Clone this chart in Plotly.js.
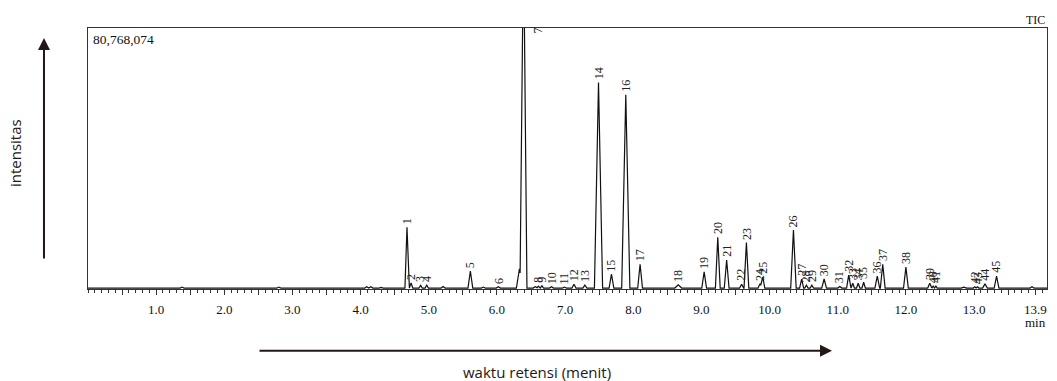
<!DOCTYPE html>
<html>
<head>
<meta charset="utf-8">
<script src="https://cdn.plot.ly/plotly-3.0.1.min.js"></script>
<style>html,body{margin:0;padding:0;background:#fff;}#chart{width:1057px;height:381px;}</style>
</head>
<body>
<div id="chart"></div>
<script>
// Peak table (retention time in min, height in millions of counts)
const peakLabels = ["1","2","3","4","5","6","7","8","9","10","11","12","13","14","15","16","17","18","19","20","21","22","23","24","25","26","27","28","29","30","31","32","33","34","35","36","37","38","39","40","41","42","43","44","45"];
const peakTimes  = [4.68,4.74,4.88,4.97,5.61,6.02,6.39,6.61,6.66,6.80,6.99,7.13,7.29,7.49,7.68,7.89,8.10,8.66,9.04,9.24,9.37,9.59,9.66,9.86,9.90,10.35,10.47,10.54,10.62,10.80,11.03,11.16,11.22,11.30,11.38,11.58,11.66,12.00,12.35,12.40,12.44,13.01,13.05,13.16,13.33];
const peakHeights= [18.9,1.6,0.8,0.9,5.3,0.4,110,0.6,0.7,0.4,0.3,1.2,0.9,63.8,4.3,60.0,7.4,1.0,5.0,15.8,8.7,1.2,14.1,1.3,3.4,18.0,2.8,0.9,0.9,2.8,0.5,4.0,1.5,1.5,1.8,3.7,7.4,6.5,1.5,0.6,0.6,0.4,0.4,1.3,3.7];
const peakWidths = [0.03,0.025,0.025,0.025,0.035,0.03,0.05,0.025,0.025,0.03,0.03,0.03,0.03,0.06,0.035,0.06,0.035,0.05,0.035,0.035,0.035,0.03,0.035,0.03,0.03,0.04,0.03,0.025,0.025,0.035,0.03,0.03,0.025,0.025,0.025,0.035,0.035,0.035,0.03,0.02,0.02,0.02,0.02,0.035,0.035];
// Unlabelled minor bumps and the shoulder in front of peak 7
const minorTimes   = [1.38,2.80,4.09,4.15,4.30,5.21,5.80,6.33,6.56,12.85,13.85];
const minorHeights = [0.3,0.3,0.4,0.4,0.2,0.5,0.3,6.0,0.4,0.3,0.4];
const minorWidths  = [0.03,0.03,0.03,0.03,0.03,0.03,0.03,0.045,0.03,0.04,0.03];
const yMax = 80.768074; // millions, full scale
const xTickVals = [0.5,1,1.5,2,2.5,3,3.5,4,4.5,5,5.5,6,6.5,7,7.5,8,8.5,9,9.5,10,10.5,11,11.5,12,12.5,13,13.5,13.9];
const xTickText = ["","1.0","","2.0","","3.0","","4.0","","5.0","","6.0","","7.0","","8.0","","9.0","","10.0","","11.0","","12.0","","13.0","","13.9"];

// Build piecewise-linear signal from triangular peaks (exact at all breakpoints)
const allT = peakTimes.concat(minorTimes);
const allH = peakHeights.concat(minorHeights);
const allW = peakWidths.concat(minorWidths);
let bp = [0, 14.07];
allT.forEach((t,i)=>{bp.push(t-allW[i], t, t+allW[i]);});
bp.sort((a,b)=>a-b);
bp = bp.filter((v,i)=>i===0 || Math.abs(v-bp[i-1])>1e-9);
const sig = bp.map(x=>{
  let s = 0;
  allT.forEach((t,i)=>{
    const d = Math.abs(x-t);
    if (d < allW[i]) s += allH[i]*(1-d/allW[i]);
  });
  return s;
});

const traces = [{
  x: bp, y: sig, type: 'scatter', mode: 'lines',
  line: {color: '#111', width: 1.2}, hoverinfo: 'skip', showlegend: false
}];

const ann = [];
peakLabels.forEach((lab,i)=>{
  if (lab === "7") {
    ann.push({x: peakTimes[i], y: 1, xref: 'x', yref: 'paper', text: lab, showarrow: false,
      textangle: -90, xanchor: 'center', yanchor: 'top', xshift: 14, yshift: 2,
      font: {family: 'Liberation Serif', size: 12, color: '#222'}});
  } else {
    ann.push({x: peakTimes[i], y: peakHeights[i], xref: 'x', yref: 'y', text: lab, showarrow: false,
      textangle: -90, xanchor: 'center', yanchor: 'bottom', yshift: 1,
      font: {family: 'Liberation Serif', size: 12, color: '#222'}});
  }
});
const serif = {family: 'Liberation Serif', size: 13, color: '#111'};
ann.push({xref:'paper', yref:'paper', x:0.003, y:0.955, text:'80,768,074', showarrow:false, xanchor:'left', yanchor:'middle', font:{family:'Liberation Serif', size:13.5, color:'#111'}});
ann.push({xref:'paper', yref:'paper', x:1, y:1.032, text:'TIC', showarrow:false, xanchor:'right', yanchor:'middle', font:{family:'Liberation Serif', size:12, color:'#111'}});
ann.push({xref:'paper', yref:'paper', x:0.9885, y:-0.13, text:'min', showarrow:false, xanchor:'center', yanchor:'middle', font:serif});
// axis description arrows
ann.push({xref:'paper', yref:'paper', x:-0.0459, y:0.9617, ax:0, ay:222, text:'', showarrow:true, arrowhead:2, arrowsize:1.2, arrowwidth:2, arrowcolor:'#231815'});
ann.push({xref:'paper', yref:'paper', x:0.7758, y:-0.2364, ax:-574, ay:0, text:'', showarrow:true, arrowhead:2, arrowsize:1.2, arrowwidth:2, arrowcolor:'#231815'});
ann.push({xref:'paper', yref:'paper', x:-0.0761, y:0.521, text:'intensitas', showarrow:false, textangle:-90, xanchor:'center', yanchor:'middle', font:{family:'Open Sans', size:15, color:'#231815'}});
ann.push({xref:'paper', yref:'paper', x:0.468, y:-0.318, text:'waktu retensi (menit)', showarrow:false, xanchor:'center', yanchor:'middle', font:{family:'Open Sans', size:15, color:'#231815'}});

const layout = {
  width: 1057, height: 381,
  margin: {l: 88, r: 10, t: 28, b: 92},
  paper_bgcolor: '#fff', plot_bgcolor: '#fff',
  showlegend: false,
  xaxis: {
    range: [0, 14.07], showgrid: false, zeroline: false,
    showline: true, mirror: true, linecolor: '#333', linewidth: 1,
    tickmode: 'array', tickvals: xTickVals, ticktext: xTickText,
    ticks: 'outside', ticklen: 5, tickwidth: 1, tickcolor: '#333',
    ticklabelstandoff: 3,
    minor: {dtick: 0.1, tick0: 0, ticks: 'outside', ticklen: 3, tickwidth: 1, tickcolor: '#333'},
    tickfont: serif
  },
  yaxis: {
    range: [-0.3, yMax], showgrid: false, zeroline: false,
    showline: true, mirror: true, linecolor: '#333', linewidth: 1,
    showticklabels: false, ticks: ''
  },
  annotations: ann
};
Plotly.newPlot('chart', traces, layout, {displayModeBar: false, staticPlot: true});
</script>
</body>
</html>
